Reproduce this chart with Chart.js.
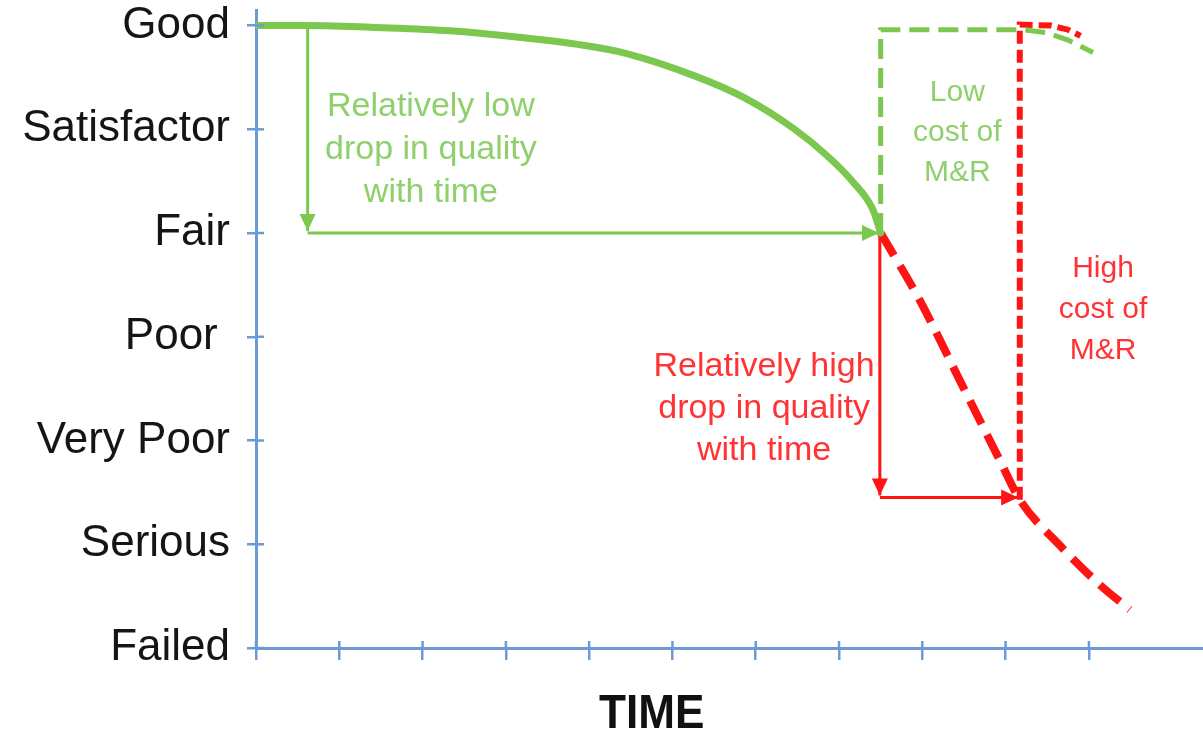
<!DOCTYPE html>
<html>
<head>
<meta charset="utf-8">
<script src="https://cdn.jsdelivr.net/npm/chart.js@4.4.1/dist/chart.umd.min.js"></script>
<style>
  html, body { margin: 0; padding: 0; background: #fff; }
</style>
</head>
<body>
<canvas id="myChart" width="1203" height="736"></canvas>
<script>
// condition scale, index 0 = Failed ... 6 = Good
const conditionLabels = ['Failed', 'Serious', 'Very Poor', 'Poor ', 'Fair', 'Satisfactor', 'Good'];
const timeTicks = [0, 1, 2, 3, 4, 5, 6, 7, 8, 9, 10];

// [time, condition]
const originalCurve = [[0, 6.0], [0.6, 6.0], [1.52, 5.98], [2.33, 5.95], [3.13, 5.89], [3.93, 5.81], [4.45, 5.73], [5.25, 5.52], [5.85, 5.31], [6.45, 5.01], [6.85, 4.75], [7.17, 4.49], [7.41, 4.22], [7.5, 4.0]];
const lowCostRepair = [[7.5, 4.0], [7.5, 5.96], [9.2, 5.96], [9.5, 5.93], [9.75, 5.86], [10.05, 5.74]];
const lateCurve = [[7.5, 4.0], [7.97, 3.35], [8.45, 2.58], [8.93, 1.81], [9.17, 1.43], [9.65, 0.99], [10.13, 0.61], [10.49, 0.37]];
const highCostRepair = [[9.17, 1.43], [9.17, 6.01], [9.55, 6.0], [9.75, 5.96], [9.9, 5.9]];

const lowDropDown = [[0.62, 6.0], [0.62, 4.02]];
const lowDropAcross = [[0.62, 4.0], [7.48, 4.0]];
const highDropDown = [[7.49, 4.0], [7.49, 1.47]];
const highDropAcross = [[7.49, 1.45], [9.15, 1.45]];

const GREEN = '#7cc84f';
const GREEN_TEXT = '#8fd06d';
const RED = '#ff1414';
const RED_TEXT = '#ff3333';
const BLUE = '#6b9bd6';

// text notes, placed in data units
const notes = [
  { lines: ['Relatively low', 'drop in quality', 'with time'], x: 2.1, y: 5.22, color: GREEN_TEXT, size: 34, gap: 43 },
  { lines: ['Low', 'cost of', 'M&R'], x: 8.42, y: 5.35, color: GREEN_TEXT, size: 30, gap: 40 },
  { lines: ['High', 'cost of', 'M&R'], x: 10.17, y: 3.66, color: RED_TEXT, size: 30, gap: 41 },
  { lines: ['Relatively high', 'drop in quality', 'with time'], x: 6.1, y: 2.71, color: RED_TEXT, size: 34, gap: 42 }
];

const pts = arr => arr.map(p => ({ x: p[0], y: p[1] }));

const innerTicks = {
  id: 'innerTicks',
  afterDraw(chart) {
    const ctx = chart.ctx;
    const xs = chart.scales.x, ys = chart.scales.y;
    ctx.save();
    ctx.strokeStyle = BLUE;
    ctx.lineWidth = 2.5;
    ys.ticks.forEach(t => {
      const py = ys.getPixelForValue(t.value);
      ctx.beginPath(); ctx.moveTo(xs.left, py); ctx.lineTo(xs.left + 8, py); ctx.stroke();
    });
    xs.ticks.forEach(t => {
      const px = xs.getPixelForValue(t.value);
      ctx.beginPath(); ctx.moveTo(px, ys.bottom); ctx.lineTo(px, ys.bottom - 7); ctx.stroke();
    });
    ctx.restore();
  }
};

const arrowHeads = {
  id: 'arrowHeads',
  afterDatasetsDraw(chart) {
    const ctx = chart.ctx;
    chart.data.datasets.forEach((ds, i) => {
      if (!ds.arrow) return;
      const d = chart.getDatasetMeta(i).data;
      const a = d[d.length - 2], b = d[d.length - 1];
      const ang = Math.atan2(b.y - a.y, b.x - a.x);
      ctx.save();
      ctx.translate(b.x, b.y);
      ctx.rotate(ang);
      ctx.fillStyle = ds.borderColor;
      ctx.beginPath();
      ctx.moveTo(0, 0);
      ctx.lineTo(-17, -8);
      ctx.lineTo(-17, 8);
      ctx.closePath();
      ctx.fill();
      ctx.restore();
    });
  }
};

const noteText = {
  id: 'noteText',
  afterDraw(chart) {
    const ctx = chart.ctx;
    const xs = chart.scales.x, ys = chart.scales.y;
    ctx.save();
    ctx.textAlign = 'center';
    ctx.textBaseline = 'middle';
    notes.forEach(n => {
      ctx.fillStyle = n.color;
      ctx.font = n.size + 'px "Liberation Sans", Arial, sans-serif';
      const px = xs.getPixelForValue(n.x);
      const py = ys.getPixelForValue(n.y);
      n.lines.forEach((l, k) => ctx.fillText(l, px, py + k * n.gap));
    });
    // axis title, slightly condensed
    ctx.fillStyle = '#111';
    ctx.font = 'bold 49px "Liberation Sans", Arial, sans-serif';
    ctx.translate(xs.getPixelForValue(4.75), ys.getPixelForValue(-0.64));
    ctx.scale(0.9, 1);
    ctx.fillText('TIME', 0, 0);
    ctx.restore();
  }
};

function line(data, color, width, dash, extra) {
  return Object.assign({
    data: pts(data),
    showLine: true,
    borderColor: color,
    backgroundColor: color,
    borderWidth: width,
    borderDash: dash,
    borderCapStyle: 'butt',
    pointRadius: 0,
    tension: 0,
    fill: false
  }, extra || {});
}

new Chart(document.getElementById('myChart'), {
  type: 'scatter',
  data: {
    datasets: [
      line(originalCurve, GREEN, 7, [], { cubicInterpolationMode: 'monotone', borderCapStyle: 'round' }),
      line(lowCostRepair, GREEN, 5, [20, 9]),
      line(lateCurve, RED, 8, [26, 12], { cubicInterpolationMode: 'monotone' }),
      line(highCostRepair, RED, 6, [13, 6]),
      line(lowDropDown, GREEN, 3, [], { arrow: true }),
      line(lowDropAcross, GREEN, 3, [], { arrow: true }),
      line(highDropDown, RED, 3, [], { arrow: true }),
      line(highDropAcross, RED, 3, [], { arrow: true })
    ]
  },
  options: {
    responsive: false,
    animation: false,
    layout: { padding: { top: 10, right: 0, bottom: 0, left: 0 } },
    plugins: { legend: { display: false }, tooltip: { enabled: false } },
    scales: {
      x: {
        type: 'linear',
        min: 0,
        max: 11.37,
        afterBuildTicks: s => { s.ticks = timeTicks.map(v => ({ value: v })); },
        ticks: { callback: () => '', padding: 0 },
        grid: { drawOnChartArea: false, color: BLUE, lineWidth: 2.5, tickLength: 12 },
        border: { color: BLUE, width: 3 },
        afterFit: s => { s.height = 88; s.paddingLeft = 0; s.paddingRight = 0; }
      },
      y: {
        type: 'linear',
        min: 0,
        max: 6.15,
        afterBuildTicks: s => { s.ticks = conditionLabels.map((l, i) => ({ value: i })); },
        ticks: {
          callback: v => conditionLabels[v],
          color: '#151515',
          font: { family: '"Liberation Sans", Arial, sans-serif', size: 44 },
          padding: 17,
          autoSkip: false
        },
        grid: { drawOnChartArea: false, color: BLUE, lineWidth: 2.5, tickLength: 9 },
        border: { color: BLUE, width: 3 },
        afterFit: s => { s.width = 256; s.paddingTop = 0; s.paddingBottom = 0; }
      }
    }
  },
  plugins: [innerTicks, arrowHeads, noteText]
});
</script>
</body>
</html>
